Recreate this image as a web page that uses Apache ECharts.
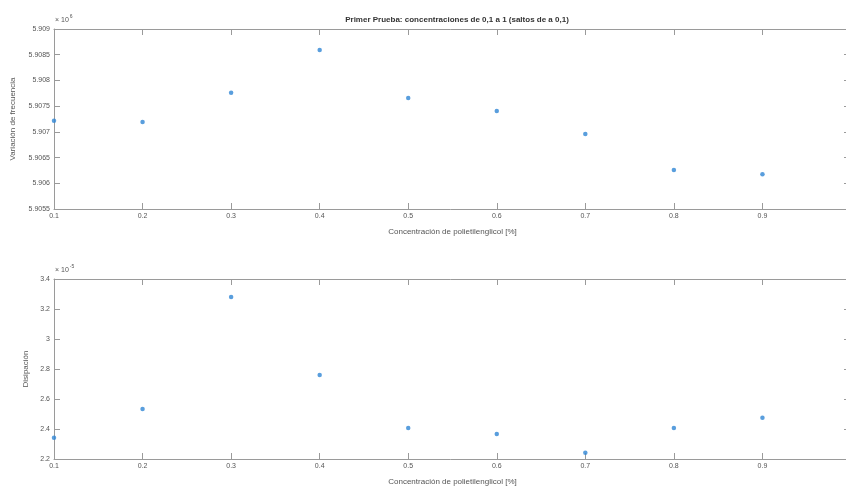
<!DOCTYPE html>
<html>
<head>
<meta charset="utf-8">
<script src="https://cdn.jsdelivr.net/npm/echarts@6/dist/echarts.min.js"></script>
<style>html,body{margin:0;padding:0;background:#fff}#c{width:846px;height:486px}</style>
</head>
<body>
<div id="c"></div>
<script>
const concentraciones = [0.1, 0.2, 0.3, 0.4, 0.5, 0.6, 0.7, 0.8, 0.9];
const frecuencia = [5.907217, 5.907192, 5.907761, 5.908592, 5.907658, 5.907406, 5.906958, 5.906258, 5.906175];
const disipacion = [2.342, 2.533, 3.28, 2.76, 2.407, 2.367, 2.242, 2.407, 2.475];
const titulo = 'Primer Prueba: concentraciones de 0,1 a 1 (saltos de a 0,1)';
const xNombre = 'Concentración de polietilenglicol [%]';
const yNombre1 = 'Variación de frecuencia';
const yNombre2 = 'Disipación';

const axisCol = '#9a9a9a';
const txtCol = '#555';
const ff = 'Liberation Sans, Arial, sans-serif';

function pair(a, b) { return a.map((v, i) => [v, b[i]]); }

const chart = echarts.init(document.getElementById('c'), null, {renderer: 'canvas'});

function xBottom(gi) {
  return {
    gridIndex: gi, type: 'value', min: 0.1, max: 1, interval: 0.1,
    name: xNombre, nameLocation: 'middle', nameGap: 19,
    nameTextStyle: {color: txtCol, fontSize: 8, fontFamily: ff},
    axisLine: {show: true, lineStyle: {color: axisCol, width: 1}},
    axisTick: {show: true, inside: true, length: 6, lineStyle: {color: axisCol}},
    axisLabel: {color: txtCol, fontSize: 7, fontFamily: ff, margin: 4,
      formatter: v => (Math.abs(v - 1) < 1e-9 ? '' : parseFloat(v.toFixed(1)).toString())},
    splitLine: {show: false}
  };
}
function xTop(gi) {
  return {
    gridIndex: gi, type: 'value', position: 'top', min: 0.1, max: 1, interval: 0.1,
    axisLine: {show: true, lineStyle: {color: axisCol, width: 1}},
    axisTick: {show: true, inside: true, length: 6, lineStyle: {color: axisCol}},
    axisLabel: {show: false}, splitLine: {show: false}
  };
}
function yLeft(gi, min, max, interval, dec, name, gap) {
  return {
    gridIndex: gi, type: 'value', min: min, max: max, interval: interval,
    name: name, nameLocation: 'middle', nameGap: gap,
    nameTextStyle: {color: txtCol, fontSize: 8, fontFamily: ff},
    axisLine: {show: true, lineStyle: {color: axisCol, width: 1}},
    axisTick: {show: true, inside: true, length: 6, lineStyle: {color: axisCol}},
    axisLabel: {color: txtCol, fontSize: 7, fontFamily: ff, margin: 4,
      formatter: v => parseFloat(v.toFixed(dec)).toString()},
    splitLine: {show: false}
  };
}
function yRight(gi, min, max, interval) {
  return {
    gridIndex: gi, type: 'value', position: 'right', min: min, max: max, interval: interval,
    axisLine: {show: true, lineStyle: {color: axisCol, width: 1}},
    axisTick: {show: true, inside: true, length: 7, lineStyle: {color: axisCol}},
    axisLabel: {show: false}, splitLine: {show: false}
  };
}

const option = {
  animation: false,
  backgroundColor: '#fff',
  title: {
    text: titulo, left: 452, top: 11, textAlign: 'center',
    textStyle: {fontSize: 8, fontWeight: 'bold', color: '#333', fontFamily: ff}
  },
  grid: [
    {left: 54, top: 29, width: 797, height: 180, outerBoundsMode: 'none', containLabel: false},
    {left: 54, top: 279, width: 797, height: 180, outerBoundsMode: 'none', containLabel: false}
  ],
  xAxis: [xBottom(0), xTop(0), xBottom(1), xTop(1)],
  yAxis: [
    yLeft(0, 5.9055, 5.909, 0.0005, 4, yNombre1, 37),
    yRight(0, 5.9055, 5.909, 0.0005),
    yLeft(1, 2.2, 3.4, 0.2, 1, yNombre2, 23),
    yRight(1, 2.2, 3.4, 0.2)
  ],
  graphic: [
    {type: 'text', left: 55, top: 14, style: {
      text: '{a|× 10}{b|6}', rich: {a: {fontSize: 7, fill: txtCol, fontFamily: ff, padding: [4, 0, 0, 0]}, b: {fontSize: 5, fill: txtCol, fontFamily: ff, padding: [0, 0, 4, 1]}}}},
    {type: 'text', left: 55, top: 264, style: {
      text: '{a|× 10}{b|-5}', rich: {a: {fontSize: 7, fill: txtCol, fontFamily: ff, padding: [4, 0, 0, 0]}, b: {fontSize: 5, fill: txtCol, fontFamily: ff, padding: [0, 0, 4, 1]}}}}
  ],
  series: [
    {type: 'scatter', xAxisIndex: 0, yAxisIndex: 0, data: pair(concentraciones, frecuencia),
      symbol: 'circle', symbolSize: 4.5, itemStyle: {color: '#2f86d4'}, clip: false},
    {type: 'scatter', xAxisIndex: 2, yAxisIndex: 2, data: pair(concentraciones, disipacion),
      symbol: 'circle', symbolSize: 4.5, itemStyle: {color: '#2f86d4'}, clip: false}
  ]
};
chart.setOption(option);
</script>
</body>
</html>
